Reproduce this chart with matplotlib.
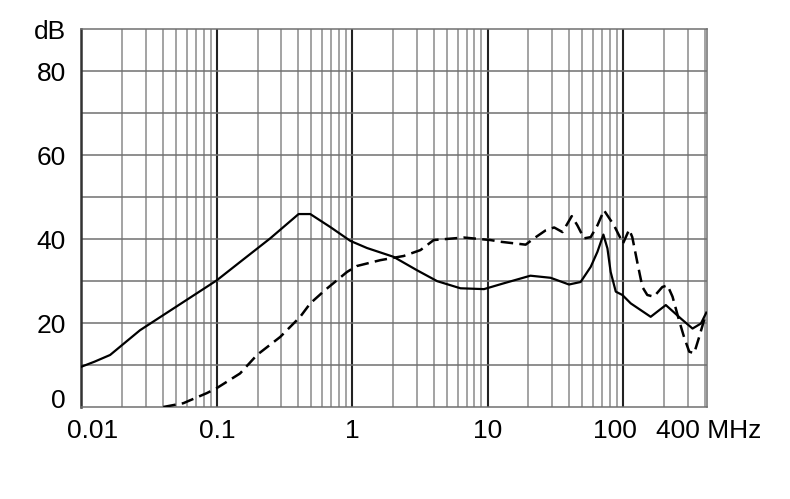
import matplotlib
matplotlib.use("Agg")
import matplotlib.pyplot as plt
import matplotlib.transforms as mtransforms

# values (MHz, dB)
solid_f = [0.01, 0.0125, 0.0163, 0.0271, 0.1, 0.149, 0.248, 0.402, 0.49,
           0.689, 0.969, 1.286, 2.02, 3.01, 4.24, 6.3, 9.4, 13.2, 20.7, 29.2,
           39.9, 48.6, 57.7, 64.7, 71.6, 76.7, 81.0, 88.4, 98.9, 114, 160,
           207, 267, 326, 376, 412]
solid_db = [9.6, 10.8, 12.4, 18.3, 30.2, 34.6, 40.2, 46.0, 46.0,
            42.9, 39.6, 37.9, 35.8, 32.6, 30.0, 28.3, 28.1, 29.5, 31.3, 30.8,
            29.2, 29.8, 33.4, 37.0, 41.1, 37.8, 32.2, 27.5, 26.7, 24.7, 21.5,
            24.3, 21.1, 18.7, 19.9, 22.5]

dash_f = [0.0403, 0.0566, 0.0843, 0.1, 0.1486, 0.198, 0.294, 0.413, 0.49,
          0.632, 0.916, 1.08, 1.61, 2.40, 3.19, 4.0, 6.67, 10.5, 12.4, 19.1,
          22, 26.8, 31, 35.7, 38.8, 41.8, 46, 51.5, 57.7, 64.7, 72.3, 85.8,
          100, 111, 117, 128, 139, 151, 169, 195, 213, 232, 259, 282, 308,
          335, 365, 410]
dash_db = [0.0, 0.9, 3.3, 4.5, 8.0, 12.4, 16.7, 21.5, 24.7,
           27.9, 32.2, 33.6, 35.0, 36.0, 37.4, 39.8, 40.4, 39.8, 39.4, 38.7,
           40.2, 42.1, 42.8, 41.7, 43.7, 45.5, 43.3, 40.2, 40.5, 43.3, 46.9, 43.3,
           39.0, 42.3, 40.5, 34.2, 28.6, 26.7, 26.3, 28.6, 29.0, 26.3, 20.7, 16.7, 13.2,
           12.8, 16.7, 22.3]

x_ticks = [0.01, 0.1, 1, 10, 100, 400]
x_labels = ["0.01", "0.1", "1", "10", "100", "400 MHz"]
y_ticks = [0, 20, 40, 60, 80, 90]
y_labels = ["0", "20", "40", "60", "80", "dB"]

plt.rcParams["font.family"] = ["Liberation Sans", "DejaVu Sans"]

fig = plt.figure(figsize=(7.9, 4.99), dpi=100)
ax = fig.add_axes([0.103, 0.1844, 0.7916, 0.7565])
ax.set_xscale("log")
ax.set_xlim(0.01, 415)
ax.set_ylim(0, 90)

# grid: minor lines gray, decade lines dark
for decade in [0.01, 0.1, 1, 10, 100]:
    for m in range(1, 10):
        f = decade * m
        if f > 415:
            break
        if m == 1:
            ax.axvline(f, color="#222222", lw=1.5, zorder=1)
        else:
            ax.axvline(f, color="#8a8a8a", lw=1.1, zorder=1)
for level in range(10, 90, 10):
    ax.axhline(level, color="#707070", lw=1.1, zorder=1)

ax.plot(solid_f, solid_db, color="black", lw=1.6, zorder=3)
ax.plot(dash_f, dash_db, color="black", lw=1.8, dashes=(5, 2.5), zorder=3)

for name, sp in ax.spines.items():
    sp.set_color("#707070")
    sp.set_linewidth(1.1)
ax.spines["left"].set_color("#333333")
ax.spines["left"].set_linewidth(1.8)

ax.set_xticks(x_ticks)
ax.set_xticklabels(x_labels)
ax.xaxis.set_minor_locator(matplotlib.ticker.NullLocator())
ax.set_yticks(y_ticks)
ax.set_yticklabels(y_labels)
ax.tick_params(axis="both", length=0, labelsize=19, colors="black")
ax.tick_params(axis="x", pad=9)
ax.tick_params(axis="y", pad=11)

# nudge crowded labels the way the original does
def nudge(label, dx, dy):
    label.set_transform(label.get_transform()
                        + mtransforms.ScaledTranslation(dx / 72, dy / 72, fig.dpi_scale_trans))

xl = ax.get_xticklabels()
nudge(xl[0], 8, 0)
nudge(xl[4], -6, 0)
nudge(xl[5], 3, 0)
yl = ax.get_yticklabels()
nudge(yl[0], 0, 6)

fig.savefig("out.png", dpi=100)
